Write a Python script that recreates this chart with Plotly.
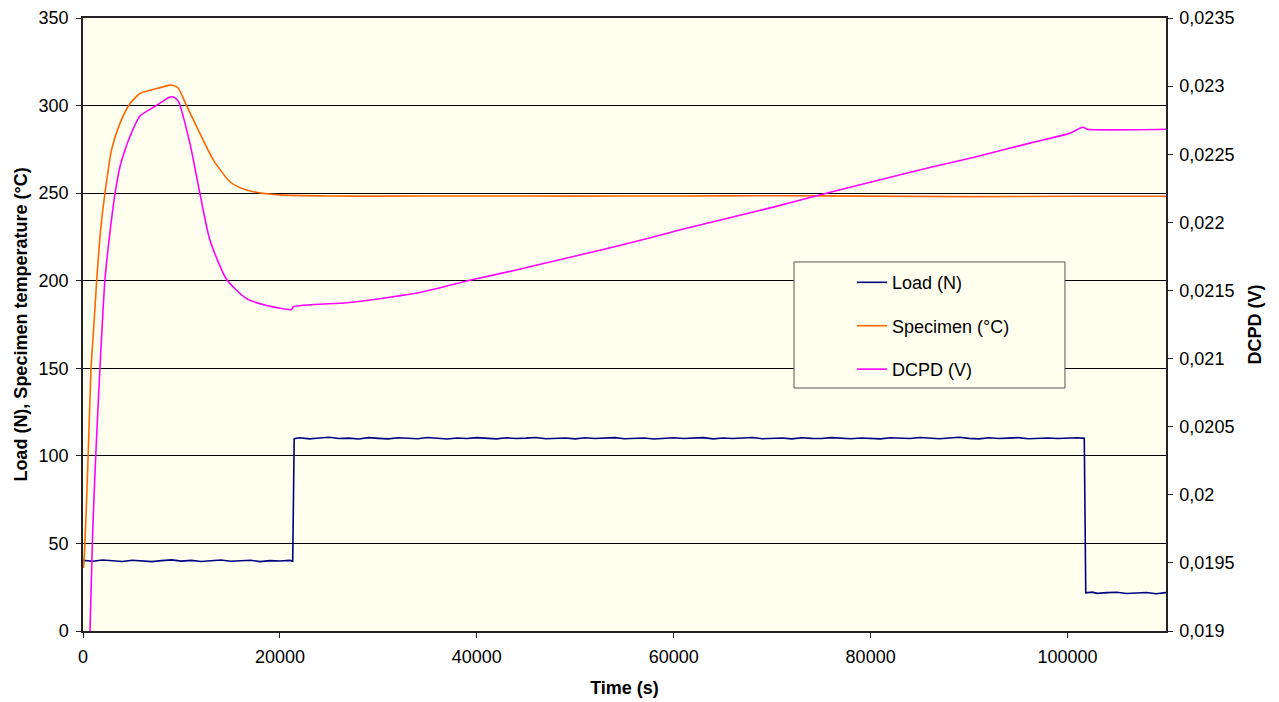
import plotly.graph_objects as go

# ---------------- data ----------------
load_time = [0, 1000, 2000, 3000, 4000, 5000, 6000, 7000, 8000, 9000, 10000,
             11000, 12000, 13000, 14000, 15000, 16000, 17000, 18000, 19000, 20000,
             21000, 21300,
             21450, 22000, 23000, 24000, 25000, 26000, 27000, 28000, 29000, 30000,
             31000, 32000, 33000, 34000, 35000, 36000, 37000, 38000, 39000, 40000,
             41000, 42000, 43000, 44000, 45000, 46000, 47000, 48000, 49000, 50000,
             51000, 52000, 53000, 54000, 55000, 56000, 57000, 58000, 59000, 60000,
             61000, 62000, 63000, 64000, 65000, 66000, 67000, 68000, 69000, 70000,
             71000, 72000, 73000, 74000, 75000, 76000, 77000, 78000, 79000, 80000,
             81000, 82000, 83000, 84000, 85000, 86000, 87000, 88000, 89000, 90000,
             91000, 92000, 93000, 94000, 95000, 96000, 97000, 98000, 99000, 100000,
             101000, 101700,
             101850, 102500, 103000, 104000, 105000, 106000, 107000, 108000, 109000,
             110000]
load_values = [40.3, 39.8, 40.5, 40.1, 39.7, 40.4, 40.0, 39.6, 40.2, 40.6, 39.9,
               40.3, 39.7, 40.1, 40.5, 39.8, 40.0, 40.4, 39.6, 40.2, 40.0,
               40.3, 39.9,
               109.8, 110.3, 109.7, 110.2, 110.6, 109.9, 110.1, 109.6, 110.4, 110.0,
               109.7, 110.3, 110.1, 109.8, 110.5, 110.0, 109.6, 110.2, 109.9, 110.4,
               110.0, 109.7, 110.3, 109.9, 110.1, 110.5, 109.8, 110.0, 110.2, 109.7,
               110.3, 109.9, 110.1, 110.4, 109.8, 110.0, 110.2, 109.6, 110.1, 110.3,
               109.9, 110.0, 110.4, 109.7, 110.2, 109.9, 110.1, 110.5, 109.8, 110.0,
               110.2, 109.7, 110.3, 110.0, 109.9, 110.4, 110.1, 109.8, 110.2, 110.0,
               109.7, 110.3, 110.1, 109.9, 110.5, 110.0, 109.8, 110.2, 110.6, 110.0,
               109.7, 110.3, 109.9, 110.1, 110.4, 109.8, 110.0, 110.2, 109.9, 110.1,
               110.3, 110.0,
               21.8, 22.2, 21.5, 21.9, 22.1, 21.4, 21.8, 22.0, 21.3,
               21.9]

temp_time = [50, 150, 300, 540, 810, 1120, 1390, 1790, 2230, 2910, 3760, 4770,
             5790, 7300, 8830, 9200, 9680, 10600, 11540, 13230, 14920, 16000,
             17290, 20000, 25080, 30000, 40000, 50000, 60000, 70000, 80000,
             90000, 100000, 110000]
temp_values = [36, 45, 65, 103, 149, 176, 200, 229, 250, 275, 290, 301,
               307, 309.5, 311.7, 311.5, 309.9, 299, 288, 269, 256.5, 253,
               250.8, 249, 248.4, 248.3, 248.4, 248.3, 248.4, 248.5, 248.3,
               248.0, 248.2, 248.2]

dcpd_time = [710, 980, 1320, 1730, 2230, 2810, 3250, 3760, 4260, 4770, 5790,
             7300, 8830, 9200, 9680, 10860, 11880, 12890, 14590, 16620, 18650,
             21190, 21350, 26770, 31170, 34550, 39630, 43690, 48090, 52820,
             57220, 61280, 65690, 70000, 75500, 81590, 86330, 90730, 96480,
             100200, 101550, 102060, 110000]
dcpd_values = [0.01900, 0.01972, 0.02033, 0.02094, 0.02158, 0.02197, 0.02221,
               0.02241, 0.02253, 0.02263, 0.02278, 0.02285, 0.02292, 0.02292,
               0.02289, 0.02258, 0.02221, 0.02187, 0.02158, 0.02144, 0.02139,
               0.02136, 0.02138, 0.02141, 0.02145, 0.02149, 0.02158, 0.021645,
               0.02172, 0.02180, 0.02188, 0.021956, 0.022034, 0.02211, 0.022213,
               0.022323, 0.022408, 0.022482, 0.022587, 0.022653, 0.022698,
               0.022683, 0.022683]

x_tick_values = [0, 20000, 40000, 60000, 80000, 100000]
left_tick_values = [0, 50, 100, 150, 200, 250, 300, 350]
right_tick_values = [0.019, 0.0195, 0.020, 0.0205, 0.021, 0.0215, 0.022,
                     0.0225, 0.023, 0.0235]
right_tick_labels = ["0,019", "0,0195", "0,02", "0,0205", "0,021", "0,0215",
                     "0,022", "0,0225", "0,023", "0,0235"]

# ---------------- figure ----------------
FONT = "Arial, Liberation Sans, sans-serif"
BG = "#FFFFF0"

fig = go.Figure()
fig.add_trace(go.Scatter(x=load_time, y=load_values, name="Load (N)",
                         mode="lines", line=dict(color="#000080", width=1.6),
                         legendgroup="a"))
fig.add_trace(go.Scatter(x=temp_time, y=temp_values, name="Specimen (°C)",
                         mode="lines", line=dict(color="#FF6600", width=1.6,
                                                 shape="spline", smoothing=0.6),
                         legendgroup="b"))
fig.add_trace(go.Scatter(x=dcpd_time, y=dcpd_values, name="DCPD (V)",
                         mode="lines", line=dict(color="#FF00FF", width=1.6,
                                                 shape="spline", smoothing=0.6),
                         yaxis="y2", legendgroup="c"))

# legend frame (box behind the legend entries)
fig.add_shape(type="rect", xref="paper", yref="paper",
              x0=0.6565, x1=0.9067, y0=0.3964, y1=0.6020,
              fillcolor=BG, line=dict(color="#555555", width=1),
              layer="above")

fig.update_layout(
    width=1279, height=702,
    margin=dict(l=75, r=121, t=10, b=79, autoexpand=False),
    paper_bgcolor="white",
    plot_bgcolor=BG,
    font=dict(family=FONT, size=18, color="black"),
    showlegend=True,
    legend=dict(x=0.6565, y=0.5985, xanchor="left", yanchor="top",
                bgcolor="rgba(0,0,0,0)", borderwidth=0,
                font=dict(size=18), indentation=58,
                tracegroupgap=17, traceorder="grouped"),
    xaxis=dict(range=[0, 110000], tickvals=x_tick_values, tickformat="d",
               showgrid=False, zeroline=False, showline=True,
               linecolor="#222222", linewidth=1.5, mirror=True,
               ticks="outside", ticklen=5, tickcolor="#222222",
               ticklabelstandoff=4,
               title=dict(text="<b>Time (s)</b>", font=dict(size=18),
                          standoff=15)),
    yaxis=dict(range=[0, 350], tickvals=left_tick_values,
               showgrid=True, gridcolor="black", gridwidth=1,
               zeroline=False, showline=True, linecolor="#222222",
               linewidth=1.5, ticks="outside", ticklen=5,
               tickcolor="#222222", ticklabelstandoff=4,
               title=dict(text="<b>Load (N), Specimen temperature (°C)</b>",
                          font=dict(size=18), standoff=6)),
    yaxis2=dict(range=[0.019, 0.0235], tickvals=right_tick_values,
                ticktext=right_tick_labels, overlaying="y", side="right",
                showgrid=False, zeroline=False, showline=True,
                linecolor="#222222", linewidth=1.5, ticks="outside",
                ticklen=5, tickcolor="#222222", ticklabelstandoff=3,
                title=dict(text="<b>DCPD (V)</b>", font=dict(size=18),
                           standoff=15)),
)

fig.write_html("out.html")
